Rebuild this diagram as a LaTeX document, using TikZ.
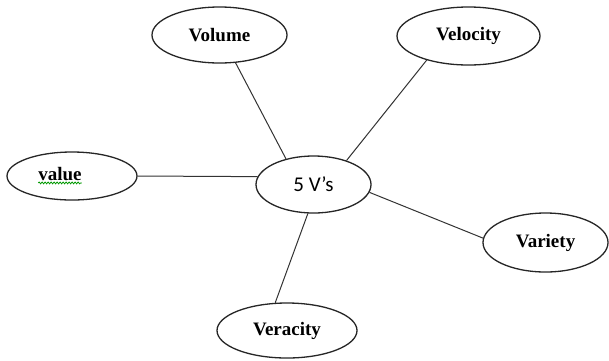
\documentclass[tikz,border=0pt]{standalone}
\usepackage{fontspec}
\setmainfont{Liberation Serif}
\newfontfamily\calib{Carlito}
\usetikzlibrary{shapes.geometric,decorations.pathmorphing}
\begin{document}
\begin{tikzpicture}[x=1pt,y=-1pt,
  bubble/.style={draw=black!85,line width=1.3pt,ellipse,inner sep=0pt,
    font=\fontsize{19}{21}\selectfont\bfseries},
  link/.style={draw=black!80,line width=1pt}]
\useasboundingbox[fill=white] (0,0) rectangle (609,360);
\node[bubble,minimum width=115pt,minimum height=57pt,font=\calib\fontsize{21}{23}\selectfont] (c) at (313.5,184.5) {5 V’s};
\node[bubble,minimum width=130pt,minimum height=48pt] (v) at (72,176) {};
\node[font=\fontsize{19}{21}\selectfont\bfseries,inner sep=0pt] (vt) at (60,174) {value};
\node[bubble,minimum width=135pt,minimum height=56pt] (vol) at (219.5,35) {Volume};
\node[bubble,minimum width=143pt,minimum height=58pt] (vel) at (468.5,36) {Velocity};
\node[bubble,minimum width=125pt,minimum height=59pt] (var) at (545.5,242.5) {Variety};
\node[bubble,minimum width=140pt,minimum height=55pt] (ver) at (287,330.5) {Veracity};
\draw[green!60!black,line width=0.8pt,decorate,decoration={snake,segment length=3pt,amplitude=0.9pt}]
  ([yshift=-2pt]vt.south west) -- ([yshift=-2pt]vt.south east);
\draw[link] (v.east) -- (c.172);
\draw[link] (vol.-60) -- (c.137);
\draw[link] (vel.-150) -- (c.36);
\draw[link] (var.176) -- (c.-8.6);
\draw[link] (ver.113) -- (c.-101);
\end{tikzpicture}
\end{document}
